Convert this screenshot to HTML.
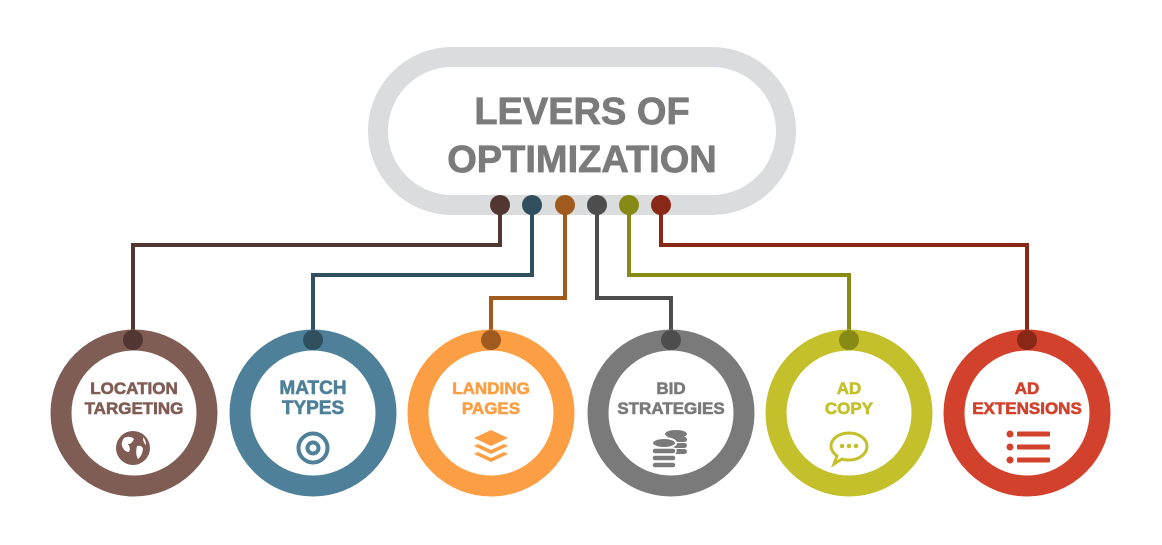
<!DOCTYPE html>
<html><head><meta charset="utf-8"><style>
html,body{margin:0;padding:0;background:#fff;}
svg{display:block;font-family:"Liberation Sans",Arial,sans-serif;font-weight:bold;}
</style></head><body>
<svg width="1162" height="545" viewBox="0 0 1162 545" xmlns="http://www.w3.org/2000/svg">
<rect x="378" y="57" width="408" height="148" rx="74" fill="#fff" stroke="#dbdcdd" stroke-width="20"/>
<g stroke="#7b7b7b" stroke-width="0.8">
<text x="582" y="124" text-anchor="middle" font-size="38" fill="#7b7b7b">LEVERS OF</text>
<text x="582" y="172" text-anchor="middle" font-size="38" fill="#7b7b7b">OPTIMIZATION</text>
</g>
<g fill="none" stroke-width="4">
<polyline points="500,205 500,245 133,245 133,340" stroke="#523631"/>
<polyline points="532,205 532,275 313,275 313,340" stroke="#31505f"/>
<polyline points="565,205 565,298 491,298 491,340" stroke="#a05a1e"/>
<polyline points="597,205 597,298 671,298 671,340" stroke="#4d4d4d"/>
<polyline points="629,205 629,275 849,275 849,340" stroke="#878a14"/>
<polyline points="661,205 661,245 1027,245 1027,340" stroke="#8a2818"/>
</g>
<circle cx="500" cy="205" r="10" fill="#523631"/>
<circle cx="532" cy="205" r="10" fill="#31505f"/>
<circle cx="565" cy="205" r="10" fill="#a05a1e"/>
<circle cx="597" cy="205" r="10" fill="#4d4d4d"/>
<circle cx="629" cy="205" r="10" fill="#878a14"/>
<circle cx="661" cy="205" r="10" fill="#8a2818"/>
<g fill="#fff" stroke-width="21">
<circle cx="134" cy="413" r="73" stroke="#7f5d55"/>
<circle cx="313" cy="413" r="73" stroke="#4e8199"/>
<circle cx="491" cy="413" r="73" stroke="#fc9e44"/>
<circle cx="671" cy="413" r="73" stroke="#7a7a7a"/>
<circle cx="849" cy="413" r="73" stroke="#c3c02c"/>
<circle cx="1027" cy="413" r="73" stroke="#d2412c"/>
</g>
<circle cx="133" cy="340" r="10" fill="#523631"/>
<circle cx="313" cy="340" r="10" fill="#31505f"/>
<circle cx="491" cy="340" r="10" fill="#a05a1e"/>
<circle cx="671" cy="340" r="10" fill="#4d4d4d"/>
<circle cx="849" cy="340" r="10" fill="#878a14"/>
<circle cx="1027" cy="340" r="10" fill="#8a2818"/>
<g font-size="17" text-anchor="middle" stroke-width="0.6">
<text x="134" y="394" fill="#7f5d55" stroke="#7f5d55">LOCATION</text><text x="134" y="414" fill="#7f5d55" stroke="#7f5d55">TARGETING</text>
<text x="313" y="394" fill="#4e8199" stroke="#4e8199" font-size="19">MATCH</text><text x="313" y="414" fill="#4e8199" stroke="#4e8199" font-size="19">TYPES</text>
<text x="491" y="394" fill="#fc9e44" stroke="#fc9e44">LANDING</text><text x="491" y="414" fill="#fc9e44" stroke="#fc9e44">PAGES</text>
<text x="671" y="394" fill="#7a7a7a" stroke="#7a7a7a">BID</text><text x="671" y="414" fill="#7a7a7a" stroke="#7a7a7a">STRATEGIES</text>
<text x="849" y="394" fill="#c3c02c" stroke="#c3c02c">AD</text><text x="849" y="414" fill="#c3c02c" stroke="#c3c02c">COPY</text>
<text x="1027" y="394" fill="#d2412c" stroke="#d2412c">AD</text><text x="1027" y="414" fill="#d2412c" stroke="#d2412c">EXTENSIONS</text>
</g>
<circle cx="133" cy="448" r="17" fill="#7f5d55"/>
<path d="M124,438 q6,-3 10,1 q-2,5 -6,5 q3,4 1,8 q-4,0 -6,-4 q-3,-4 1,-10z M137,446 q5,-1 6,3 q-1,7 -5,10 q-3,-5 -1,-13z M143,437 q3,3 3,8 q-3,-2 -3,-8z" fill="#fff"/>
<circle cx="313" cy="448" r="14.5" fill="none" stroke="#4e8199" stroke-width="4"/>
<circle cx="313" cy="448" r="5.5" fill="none" stroke="#4e8199" stroke-width="4"/>
<g fill="#fc9e44">
<path d="M491,430 l17,8 l-17,8 l-17,-8z"/>
<path d="M478,444 l13,6 l13,-6 l4,2 l-17,8 l-17,-8z"/>
<path d="M478,452 l13,6 l13,-6 l4,2 l-17,8 l-17,-8z"/>
</g>
<g fill="#7a7a7a">
<ellipse cx="676" cy="434" rx="11" ry="4"/>
<rect x="665" y="437" width="22" height="5" rx="2.5"/><rect x="665" y="443" width="22" height="5" rx="2.5"/><rect x="665" y="449" width="22" height="5" rx="2.5"/>
<ellipse cx="664" cy="443" rx="12" ry="5" stroke="#fff" stroke-width="2"/>
<rect x="652" y="448" width="24" height="6" rx="3" stroke="#fff" stroke-width="1.5"/>
<rect x="652" y="455" width="24" height="6" rx="3" stroke="#fff" stroke-width="1.5"/>
<rect x="652" y="462" width="24" height="6" rx="3" stroke="#fff" stroke-width="1.5"/>
</g>
<path d="M849,433 c-10,0 -18,6 -18,13 c0,4 2,7 6,10 l-3,8 l8,-5 c2,1 5,1 7,1 c10,0 18,-6 18,-14 c0,-7 -8,-13 -18,-13z" fill="none" stroke="#c3c02c" stroke-width="3"/>
<circle cx="842" cy="446" r="2.3" fill="#c3c02c"/><circle cx="849" cy="446" r="2.3" fill="#c3c02c"/><circle cx="856" cy="446" r="2.3" fill="#c3c02c"/>
<g fill="#d2412c">
<circle cx="1010" cy="434" r="3.5"/><rect x="1017" y="431.5" width="33" height="5" rx="1"/>
<circle cx="1010" cy="447" r="3.5"/><rect x="1017" y="444.5" width="33" height="5" rx="1"/>
<circle cx="1010" cy="460" r="3.5"/><rect x="1017" y="457.5" width="33" height="5" rx="1"/>
</g>
</svg>
</body></html>
